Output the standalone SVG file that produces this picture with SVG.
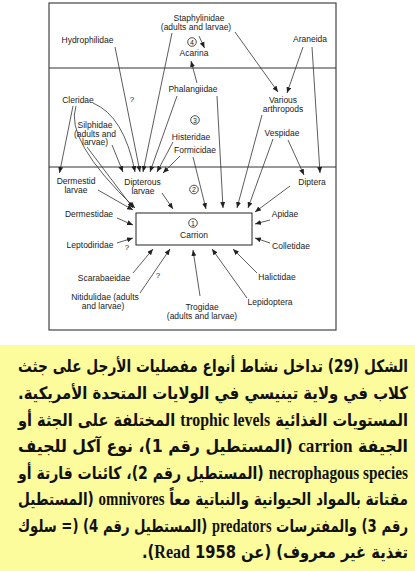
<svg xmlns="http://www.w3.org/2000/svg" width="415" height="571" viewBox="0 0 415 571">
<defs>
<marker id="ah" markerWidth="6" markerHeight="5" refX="6" refY="2.5" orient="auto" markerUnits="userSpaceOnUse"><path d="M0,0 L6,2.5 L0,5 z" fill="#222"/></marker>
<style>
.lbl{font-family:"Liberation Sans",Arial,sans-serif;font-size:8.5px;fill:#222;text-anchor:middle}
.q{font-family:"Liberation Sans",Arial,sans-serif;font-size:8px;fill:#222;text-anchor:middle}
.num{font-family:"Liberation Sans",Arial,sans-serif;font-size:7px;fill:#222;text-anchor:middle}
.cir{fill:none;stroke:#222;stroke-width:0.8}
.edge{fill:none;stroke:#333;stroke-width:0.8;marker-end:url(#ah)}
.frame{fill:none;stroke:#444;stroke-width:1.2}
.div{stroke:#333;stroke-width:1}
.ar{font-family:"DejaVu Sans",sans-serif;font-weight:bold;font-size:17px;fill:#111;text-anchor:end}
.en{font-family:"Liberation Serif",serif;font-weight:bold;font-size:18.5px}
</style>
</defs>
<rect x="0" y="0" width="415" height="571" fill="#ffffff"/>
<rect x="0" y="345" width="415" height="226" fill="#fdfc9c"/>

<g id="frame">
<rect class="frame" x="49" y="3" width="287" height="327"/>
<line class="div" x1="49" y1="68" x2="336" y2="68"/>
<line class="div" x1="49" y1="167" x2="336" y2="167"/>
</g>

<g id="connectors">
<path class="edge" d="M199,36 L204.5,48"/>
<path class="edge" d="M235,32 L278,92"/>
<path class="edge" d="M172,33 L143,172"/>
<path class="edge" d="M303,47 L287,93"/>
<path class="edge" d="M312,47 L320,173"/>
<path class="edge" d="M115,47 L140,172"/>
<path class="edge" d="M197,83 L191,61"/>
<path class="edge" d="M177,96 L150,172"/>
<path class="edge" d="M217,96 L223,208"/>
<path class="edge" d="M93,103 Q124,116 135,172"/>
<path class="edge" d="M73,106 L59.5,173"/>
<path class="edge" d="M76,106 Q64,140 135,208"/>
<path class="edge" d="M112,145 L123,172"/>
<path class="edge" d="M87,147 L133,208"/>
<path class="edge" d="M173,142 L157,172"/>
<path class="edge" d="M180,156 L163,173"/>
<path class="edge" d="M193,157 L206,209"/>
<path class="edge" d="M98,190 L133,210"/>
<path class="edge" d="M162,193 L173,209"/>
<path class="edge" d="M262,115 L237,208"/>
<path class="edge" d="M273,139 L248,208"/>
<path class="edge" d="M288,140 L304,175"/>
<path class="edge" d="M290,186 L255,212"/>
<path class="edge" d="M270,220 L255,224"/>
<path class="edge" d="M270,243 L255,238"/>
<path class="edge" d="M257,273 L233,249"/>
<path class="edge" d="M247,298 L212,249"/>
<path class="edge" d="M200,296 L193,250"/>
<path class="edge" d="M140,293 L170,249"/>
<path class="edge" d="M133,273 L153,249"/>
<path class="edge" d="M117,243 L133,238"/>
<path class="edge" d="M117,218 L133,225"/>
</g>

<g id="carrion">
<rect x="136" y="213" width="116" height="32" fill="#fff" stroke="#222" stroke-width="1"/>
<circle class="cir" cx="193" cy="223" r="4.3"/>
<text class="num" x="193" y="225.5">1</text>
<text class="lbl" x="194" y="238">Carrion</text>
</g>

<g id="level2"><circle class="cir" cx="194" cy="189.5" r="4.3"/><text class="num" x="194" y="192">2</text></g>
<g id="level3"><circle class="cir" cx="195" cy="120" r="4.3"/><text class="num" x="195" y="122.5">3</text></g>
<g id="level4"><circle class="cir" cx="192" cy="42" r="4.3"/><text class="num" x="192" y="44.5">4</text></g>

<g id="staphylinidae"><text class="lbl" x="199" y="21">Staphylinidae</text><text class="lbl" x="196" y="30">(adults and larvae)</text></g>
<g id="hydrophilidae"><text class="lbl" x="87.5" y="43">Hydrophilidae</text></g>
<g id="acarina"><text class="lbl" x="194" y="56">Acarina</text></g>
<g id="araneida"><text class="lbl" x="310" y="42">Araneida</text></g>
<g id="phalangiidae"><text class="lbl" x="193" y="92">Phalangiidae</text></g>
<g id="cleridae"><text class="lbl" x="78" y="103">Cleridae</text><text class="q" x="132" y="102">?</text></g>
<g id="various-arthropods"><text class="lbl" x="283" y="103">Various</text><text class="lbl" x="283" y="111.5">arthropods</text></g>
<g id="silphidae"><text class="lbl" x="95" y="128">Silphidae</text><text class="lbl" x="95" y="136.5">(adults and</text><text class="lbl" x="95" y="145">larvae)</text></g>
<g id="histeridae"><text class="lbl" x="191" y="140">Histeridae</text></g>
<g id="formicidae"><text class="lbl" x="195" y="153">Formicidae</text></g>
<g id="vespidae"><text class="lbl" x="282" y="136">Vespidae</text></g>
<g id="dermestid-larvae"><text class="lbl" x="76" y="184">Dermestid</text><text class="lbl" x="76" y="193">larvae</text></g>
<g id="dipterous-larvae"><text class="lbl" x="142.5" y="185">Dipterous</text><text class="lbl" x="143" y="193.5">larvae</text></g>
<g id="diptera"><text class="lbl" x="312" y="185">Diptera</text></g>
<g id="dermestidae"><text class="lbl" x="89" y="217">Dermestidae</text></g>
<g id="apidae"><text class="lbl" x="285" y="217">Apidae</text></g>
<g id="leptodiridae"><text class="lbl" x="90" y="248">Leptodiridae</text><text class="q" x="127" y="250">?</text></g>
<g id="colletidae"><text class="lbl" x="291" y="249">Colletidae</text></g>
<g id="scarabaeidae"><text class="lbl" x="104" y="281">Scarabaeidae</text></g>
<g id="halictidae"><text class="lbl" x="277" y="280">Halictidae</text></g>
<g id="nitidulidae"><text class="lbl" x="105" y="300">Nitidulidae (adults</text><text class="lbl" x="103" y="309">and larvae)</text><text class="q" x="158" y="278">?</text></g>
<g id="lepidoptera"><text class="lbl" x="270" y="305">Lepidoptera</text></g>
<g id="trogidae"><text class="lbl" x="202" y="310">Trogidae</text><text class="lbl" x="202" y="319">(adults and larvae)</text></g>

<g id="caption">
<text class="ar" x="408" y="372" textLength="390" lengthAdjust="spacingAndGlyphs">&#x202B;الشكل (29) تداخل نشاط أنواع مفصليات الأرجل على جثث&#x202C;</text>
<text class="ar" x="408" y="399" textLength="390" lengthAdjust="spacingAndGlyphs">&#x202B;كلاب في ولاية تينيسي في الولايات المتحدة الأمريكية.&#x202C;</text>
<text class="ar" x="408" y="425.5" textLength="390" lengthAdjust="spacingAndGlyphs">&#x202B;المستويات الغذائية <tspan class="en">trophic levels</tspan> المختلفة على الجثة أو&#x202C;</text>
<text class="ar" x="408" y="452" textLength="390" lengthAdjust="spacingAndGlyphs">&#x202B;الجيفة <tspan class="en">carrion</tspan> (المستطيل رقم 1)، نوع آكل للجيف&#x202C;</text>
<text class="ar" x="408" y="478.5" textLength="390" lengthAdjust="spacingAndGlyphs">&#x202B;<tspan class="en">necrophagous species</tspan> (المستطيل رقم 2)، كائنات قارتة أو&#x202C;</text>
<text class="ar" x="408" y="505" textLength="390" lengthAdjust="spacingAndGlyphs">&#x202B;مقتاتة بالمواد الحيوانية والنباتية معاً <tspan class="en">omnivores</tspan> (المستطيل&#x202C;</text>
<text class="ar" x="408" y="531.5" textLength="390" lengthAdjust="spacingAndGlyphs">&#x202B;رقم 3) والمفترسات <tspan class="en">predators</tspan> (المستطيل رقم 4) (= سلوك&#x202C;</text>
<text class="ar" x="408" y="558" textLength="266" lengthAdjust="spacingAndGlyphs">&#x202B;تغذية غير معروف) (عن <tspan class="en">Read</tspan> 1958).&#x202C;</text>
</g>
</svg>
